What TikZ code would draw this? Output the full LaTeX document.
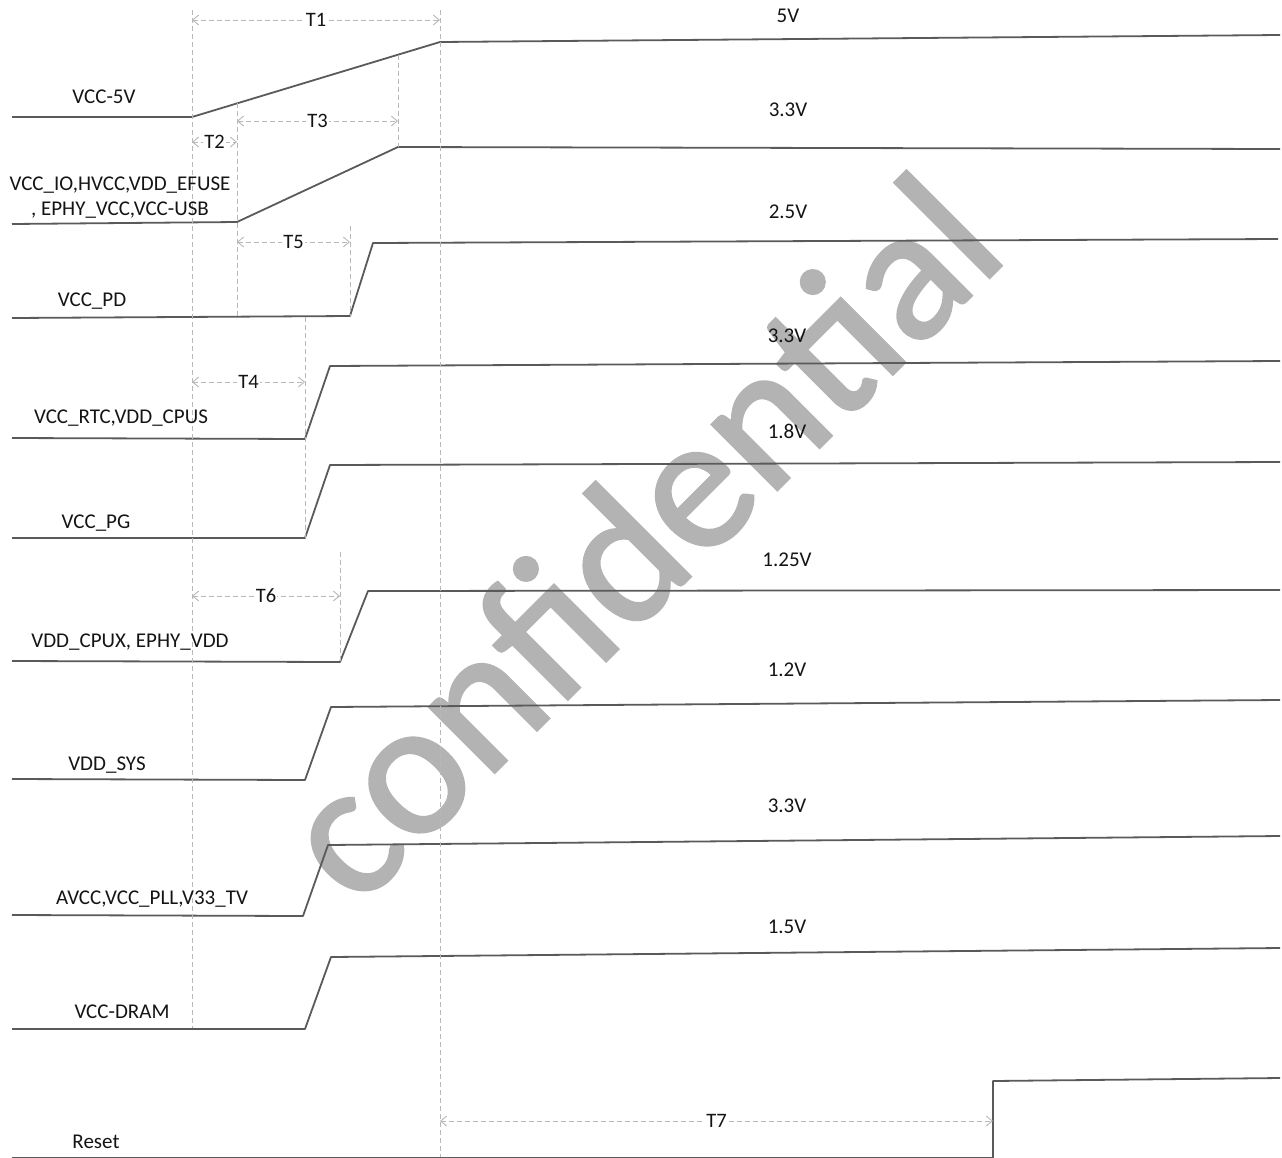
\documentclass[tikz,border=0pt]{standalone}
\usepackage{fontspec}
\setmainfont{Carlito}
\newfontfamily\markfont[FakeBold=1.5]{Carlito}
\usetikzlibrary{arrows.meta, positioning}
\definecolor{wavegray}{HTML}{5A5A5A}
\definecolor{guidegray}{HTML}{B8B8B8}
\definecolor{textdark}{HTML}{141414}
\definecolor{markgray}{HTML}{B3B3B3}

\begin{document}
\begin{tikzpicture}[
    x=1pt, y=-1pt,
    wave/.style={draw=wavegray, line width=1.8pt, line join=round},
    guide/.style={draw=guidegray, line width=0.9pt, dash pattern=on 5pt off 3pt},
    dim/.style={guide, {Straight Barb[length=6pt,width=10pt]}-{Straight Barb[length=6pt,width=10pt]}},
    tlabel/.style={fill=white, inner sep=1pt, text=textdark, font=\fontsize{20.5}{22}\selectfont},
    sig/.style={anchor=base, text=textdark, align=center, font=\fontsize{21}{25}\selectfont},
]
    \useasboundingbox (0,0) rectangle (1282,1157);

    % Watermark
    \node[anchor=base, rotate=45, text=markgray, font=\markfont\fontsize{193}{200}\selectfont] (mark) at (684,583) {confidential};

    % Rails
    \draw[wave] (12,117) -- (192,117) -- (440,42) -- (1280,35);
    \draw[wave] (12,224) -- (237,222) -- (398,147) -- (1280,149);
    \draw[wave] (12,318) -- (350,316) -- (373,243) -- (1278,239);
    \draw[wave] (12,438) -- (305,439) -- (330,366) -- (1280,361);
    \draw[wave] (12,538) -- (305,538) -- (330,465) -- (1280,462);
    \draw[wave] (12,661) -- (340,662) -- (368,591) -- (1280,590);
    \draw[wave] (12,779) -- (305,780) -- (331,707) -- (1280,700);
    \draw[wave] (12,915) -- (303,916) -- (328,845) -- (1280,836);
    \draw[wave] (12,1029) -- (305,1029) -- (331,957) -- (1280,948);
    \draw[wave] (12,1158) -- (993,1158) -- (993,1081) -- (1280,1078);

    % Guides
    \draw[guide] (192,10) -- (192,1028);
    \draw[guide] (237,103) -- (237,316);
    \draw[guide] (398,55) -- (398,147);
    \draw[guide] (440,10) -- (440,1157);
    \draw[guide] (350,226) -- (350,316);
    \draw[guide] (305,317) -- (305,538);
    \draw[guide] (340,552) -- (340,661);

    % Timings
    \draw[dim] (192,20) -- node[tlabel] {T1} (440,20);
    \draw[dim] (237,121) -- node[tlabel] {T3} (398,121);
    \draw[dim] (192,142) -- node[tlabel] {T2} (237,142);
    \draw[dim] (237,242) -- node[tlabel] {T5} (350,242);
    \draw[dim] (192,382) -- node[tlabel] {T4} (305,382);
    \draw[dim] (192,596) -- node[tlabel] {T6} (340,596);
    \draw[dim] (440,1121) -- node[tlabel] {T7} (993,1121);

    % Rail names
    \node[sig] (n5v) at (104,103) {VCC-5V};
    \node[sig, anchor=center] (nio) at (120,198) {VCC\_IO,HVCC,VDD\_EFUSE\\, EPHY\_VCC,VCC-USB};
    \node[sig] (npd) at (92,306) {VCC\_PD};
    \node[sig] (nrtc) at (121,423) {VCC\_RTC,VDD\_CPUS};
    \node[sig] (npg) at (96,528) {VCC\_PG};
    \node[sig] (ncpux) at (130,647) {VDD\_CPUX, EPHY\_VDD};
    \node[sig] (nsys) at (107,770) {VDD\_SYS};
    \node[sig] (navcc) at (152,904) {AVCC,VCC\_PLL,V33\_TV};
    \node[sig] (ndram) at (122,1018) {VCC-DRAM};
    \node[sig] (nrst) at (96,1148) {Reset};

    % Levels
    \node[sig] (v5v) at (788,22) {5V};
    \node[sig] (vio) at (788,116) {3.3V};
    \node[sig] (vpd) at (788,218) {2.5V};
    \node[sig] (vrtc) at (787,342) {3.3V};
    \node[sig] (vpg) at (787,438) {1.8V};
    \node[sig] (vcpux) at (787,566) {1.25V};
    \node[sig] (vsys) at (787,676) {1.2V};
    \node[sig] (vavcc) at (787,812) {3.3V};
    \node[sig] (vdram) at (787,933) {1.5V};
\end{tikzpicture}
\end{document}
